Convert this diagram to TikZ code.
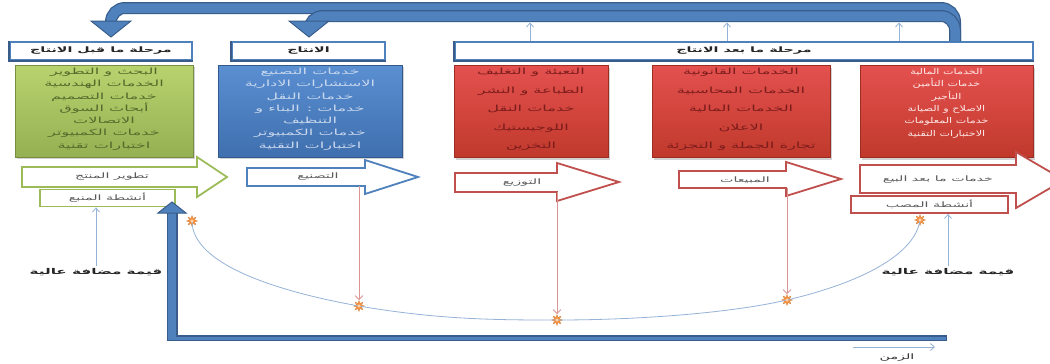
\documentclass[tikz,border=0pt]{standalone}
\usepackage{fontspec}
\TeXXeTstate=1
\newfontfamily\arw[Script=Arabic,FakeStretch=1.9]{DejaVu Sans}
\newfontfamily\arn[Script=Arabic,FakeStretch=1.4]{DejaVu Sans}
\usetikzlibrary{shapes.geometric,arrows.meta,shadows}
\newcommand{\AR}[1]{\beginR#1\endR}
\definecolor{hblue}{HTML}{4F81BD}
\definecolor{hdark}{HTML}{385D8A}
\definecolor{gtop}{HTML}{B8D36E}
\definecolor{gbot}{HTML}{94B052}
\definecolor{btop}{HTML}{5A8FD2}
\definecolor{bbot}{HTML}{3F6FAE}
\definecolor{rtop}{HTML}{E4514F}
\definecolor{rbot}{HTML}{C0392B}
\definecolor{pinkl}{HTML}{D99694}
\definecolor{tblue}{HTML}{95B3D7}
\definecolor{staror}{HTML}{F79646}
\definecolor{gline}{HTML}{9BBB59}
\definecolor{rline}{HTML}{C0504D}
\definecolor{gtxtc}{HTML}{56692C}
\definecolor{btxtc}{HTML}{C9D8EE}
\definecolor{rtxtc}{HTML}{7B1C1C}
\definecolor{wtxtc}{HTML}{FDE9E8}
\begin{document}
\begin{tikzpicture}[x=1pt,y=-1pt,
  hdr/.style={draw=hblue, line width=1.1pt, fill=white, inner sep=0pt, minimum height=18pt, text=black!85, font=\arw\bfseries\fontsize{7.5}{9}\selectfont},
  cbox/.style={inner sep=0pt, minimum height=92pt, line width=.4pt, drop shadow={shadow xshift=1.5pt,shadow yshift=-2pt,opacity=.35}},
  gbox/.style={cbox, top color=gtop, bottom color=gbot, draw=gbot!80!black},
  bbox/.style={cbox, top color=btop, bottom color=bbot, draw=bbot!80!black},
  rbox/.style={cbox, top color=rtop, bottom color=rbot, draw=rbot!80!black},
  ctxt/.style={inner sep=0pt, align=center, anchor=north, font=\arw\fontsize{8.5}{12.3}\selectfont},
  ctxtw/.style={inner sep=0pt, align=center, anchor=north, font=\arw\fontsize{8.5}{18.5}\selectfont},
  ctxtn/.style={inner sep=0pt, align=center, anchor=north, font=\arn\fontsize{8}{12.3}\selectfont},
  barrow/.style={fill=white, line width=1.8pt, line join=miter},
  alab/.style={inner sep=1pt, text=black!65, font=\arw\fontsize{7.5}{9}\selectfont},
  mbox/.style={fill=white, line width=1.8pt, inner sep=0pt, minimum height=17pt, text=black!65, font=\arw\fontsize{7.5}{9}\selectfont},
  vlab/.style={inner sep=2pt, text=black!85, font=\arw\bfseries\fontsize{8}{9}\selectfont},
  tb/.style={draw=tblue, line width=.8pt, -{Straight Barb[length=4pt,width=7pt]}},
  pk/.style={draw=pinkl, line width=.9pt, -{Straight Barb[length=4pt,width=8pt]}},
  sunstar/.style={star, star points=8, star point ratio=1.9, minimum size=11pt, inner sep=0pt, fill=staror, draw=staror!80!black, line width=.2pt},
  bandD/.style={draw=hdark, line width=12pt, rounded corners=14pt},
  bandL/.style={draw=hblue, line width=9.5pt, rounded corners=14pt},
  headS/.style={fill=hblue, draw=hdark, line width=1pt, line join=miter},
]
\useasboundingbox (0,0) rectangle (1050,364);
\clip (0,0) rectangle (1050,364);
\fill[white] (0,0) rectangle (1050,364);

% headers
\node[hdr, minimum width=182pt] (h1) at (101,51) {\AR{مرحلة ما قبل الانتاج}};
\node[hdr, minimum width=153pt] (h2) at (308.5,51) {\AR{الانتاج}};
\node[hdr, minimum width=578pt] (h3) at (744,51) {\AR{مرحلة ما بعد الانتاج}};
\foreach \h in {h1,h2,h3}{
  \draw[hdark, line width=2pt] (\h.north west) -- (\h.south west) -- (\h.south east);
}

% top bands
\coordinate (bR) at (955,41);
\coordinate (bA) at (111,22);
\coordinate (bB) at (309,22);
\draw[bandD] (bR) -- (955,8) -- (111,8) -- (bA);
\draw[bandL] (bR) -- (955,8) -- (111,8) -- (bA);
\filldraw[headS] (91,21) -- (131,21) -- (111,37) -- cycle;
\draw[bandD] (bR) -- (955,16) -- (309,16) -- (bB);
\draw[bandL] (bR) -- (955,16) -- (309,16) -- (bB);
\filldraw[headS] (289,21) -- (329,21) -- (309,37) -- cycle;
\foreach \x/\n in {530/u1,727/u2,899/u3}{
  \coordinate (\n) at (\x,22.5);
  \draw[tb] (\n |- h3.north) -- (\n);
}

% coloured boxes
\node[gbox, minimum width=178pt] (G) at (104,111) {};
\node[bbox, minimum width=184pt] (B) at (310,111) {};
\node[rbox, minimum width=154pt] (R1) at (531,111.5) {};
\node[rbox, minimum width=178pt] (R2) at (741,111.5) {};
\node[rbox, minimum width=173pt] (R3) at (946.5,111.5) {};

\node[ctxt, text=gtxtc] (Gt) at ([yshift=-3pt]G.north) {\AR{البحث و التطوير}\\\AR{الخدمات الهندسية}\\\AR{خدمات التصميم}\\\AR{أبحاث السوق}\\\AR{الاتصالات}\\\AR{خدمات الكمبيوتر}\\\AR{اختبارات تقنية}};
\node[ctxt, text=btxtc] (Bt) at ([yshift=-3pt]B.north) {\AR{خدمات التصنيع}\\\AR{الاستشارات الادارية}\\\AR{خدمات النقل}\\\AR{خدمات : البناء و}\\\AR{التنظيف}\\\AR{خدمات الكمبيوتر}\\\AR{اختبارات التقنية}};
\node[ctxtw, text=rtxtc] (R1t) at ([yshift=-3pt]R1.north) {\AR{التعبئة و التغليف}\\\AR{الطباعة و النشر}\\\AR{خدمات النقل}\\\AR{اللوجيستيك}\\\AR{التخزين}};
\node[ctxtw, text=rtxtc] (R2t) at ([yshift=-3pt]R2.north) {\AR{الخدمات القانونية}\\\AR{الخدمات المحاسبية}\\\AR{الخدمات المالية}\\\AR{الاعلان}\\\AR{تجارة الجملة و التجزئة}};
\node[ctxtn, text=wtxtc] (R3t) at ([yshift=-3pt]R3.north) {\AR{الخدمات المالية}\\\AR{خدمات التأمين}\\\AR{التأجير}\\\AR{الاصلاح و الصيانة}\\\AR{خدمات المعلومات}\\\AR{الاختبارات التقنية}};

% block arrows
\draw[barrow, draw=gline] (22,167) -- (197,167) -- (197,157) -- (227,177) -- (197,197) -- (197,187) -- (22,187) -- cycle;
\node[alab] (a1) at (112,177) {\AR{تطوير المنتج}};
\draw[barrow, draw=hblue] (247,168) -- (365,168) -- (365,160) -- (418,177) -- (365,194) -- (365,186) -- (247,186) -- cycle;
\node[alab] (a2) at (318,177) {\AR{التصنيع}};
\draw[barrow, draw=rline] (455,173) -- (557,173) -- (557,163) -- (619,182) -- (557,201) -- (557,192) -- (455,192) -- cycle;
\node[alab] (a3) at (522,183) {\AR{التوزيع}};
\draw[barrow, draw=rline] (679,171) -- (786,171) -- (786,162) -- (841,179) -- (786,196) -- (786,188) -- (679,188) -- cycle;
\node[alab] (a4) at (745,180) {\AR{المبيعات}};
\draw[barrow, draw=rline] (860,165) -- (1016,165) -- (1016,152) -- (1064,180) -- (1016,208) -- (1016,193) -- (860,193) -- cycle;
\node[alab] (a5) at (938,180) {\AR{خدمات ما بعد البيع}};

% small boxes
\node[mbox, draw=gline, minimum width=135pt] (m1) at (107.5,198) {\AR{أنشطة المنبع}};
\node[mbox, draw=rline, minimum width=157pt] (m2) at (929.5,204.5) {\AR{أنشطة المصب}};

% axis
\draw[hdark, line width=11pt] (172,341) -- (172,212);
\draw[hdark, line width=5.5pt] (166.5,338) -- (947,338);
\draw[hblue, line width=8pt] (172,339.5) -- (172,212);
\draw[hblue, line width=3pt] (168,338) -- (946,338);
\filldraw[headS] (158,213) -- (186,213) -- (172,202) -- cycle;

% stars and smile curve
\node[sunstar] (s1) at (192,221) {};
\node[sunstar] (s2) at (359,306) {};
\node[sunstar] (s3) at (557,320) {};
\node[sunstar] (s4) at (787,300) {};
\node[sunstar] (s5) at (920,220) {};
\draw[tblue, line width=.8pt] (s1.center) .. controls (192,265) and (280,292) .. (s2.center)
  .. controls (440,320) and (500,320) .. (s3.center)
  .. controls (640,320) and (730,313) .. (s4.center)
  .. controls (860,283) and (915,255) .. (s5.center);
\foreach \s in {s1,s2,s3,s4,s5}{\fill[staror!40!white] (\s) circle (1.6pt);}

% pink connectors
\coordinate (p2) at (359,186);
\coordinate (p3) at (557,192);
\coordinate (p4) at (787,188);
\draw[pk] (p2) -- (s2.north);
\draw[pk] (p3) -- (s3.north);
\draw[pk] (p4) -- (s4.north);

% value labels
\node[vlab] (q1) at (96,272) {\AR{قيمة مضافة عالية}};
\node[vlab] (q2) at (948,272) {\AR{قيمة مضافة عالية}};
\draw[tb] (q1.north) -- (q1.north |- m1.south);
\draw[tb] (q2.north) -- (q2.north |- m2.south);

% time
\coordinate (t0) at (853,347);
\coordinate (t1) at (935,347);
\draw[tb] (t0) -- (t1);
\node[alab, text=black!80] (tl) at (897,358) {\AR{الزمن}};
\end{tikzpicture}
\end{document}
